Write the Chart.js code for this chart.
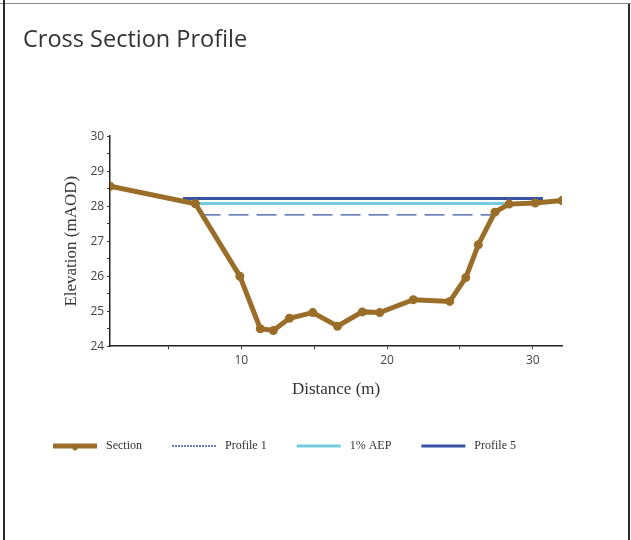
<!DOCTYPE html>
<html>
<head>
<meta charset="utf-8">
<script src="https://cdn.jsdelivr.net/npm/chart.js@4"></script>
<style>
  body { margin: 0; background: #fff; }
  #wrap { position: relative; width: 631px; height: 540px; overflow: hidden; }
  #top-line { position: absolute; left: 0; top: 3px; width: 631px; height: 1px; background: #8a8a8a; }
  #left-line { position: absolute; left: 3px; top: 0; width: 2px; height: 540px; background: #2a2a2a; }
  #right-line { position: absolute; left: 628px; top: 4px; width: 2px; height: 540px; background: #2a2a2a; }
  canvas { position: absolute; left: 0; top: 0; }
</style>
</head>
<body>
<div id="wrap">
  <canvas id="chart" width="631" height="540"></canvas>
  <div id="top-line"></div>
  <div id="left-line"></div>
  <div id="right-line"></div>
</div>
<script>
// distances (m) and elevations (mAOD)
const sectionX = [1, 6.85, 9.9, 11.3, 12.2, 13.3, 14.9, 16.6, 18.3, 19.5, 21.8, 24.3, 25.4, 26.26, 27.4, 28.37, 30.16, 32];
const sectionY = [28.57, 28.07, 26.0, 24.5, 24.45, 24.8, 24.96, 24.57, 24.98, 24.96, 25.33, 25.28, 25.96, 26.9, 27.83, 28.06, 28.09, 28.16];

const profile1X = [7.2, 27.3];
const profile1Y = [27.75, 27.75];

const aepX = [6.85, 28.4];
const aepY = [28.08, 28.08];

const profile5X = [6.0, 30.7];
const profile5Y = [28.22, 28.22];

const xLabels = [10, 20, 30];
const yLabels = [24, 25, 26, 27, 28, 29, 30];

const colors = ['#9a6d28', '#3953a4', '#72cbde', '#3953a4'];

const toPoints = (xs, ys) => xs.map((x, i) => ({x: x, y: ys[i]}));

// little legend glyphs (line sample with a margin so the text sits further away)
function legendIcon(color, width, dash, dot) {
    const c = document.createElement('canvas');
    c.width = 67;
    c.height = 14;
    const g = c.getContext('2d');
    g.strokeStyle = color;
    g.lineWidth = width;
    g.setLineDash(dash);
    g.beginPath();
    g.moveTo(20, 7);
    g.lineTo(64, 7);
    g.stroke();
    if (dot) {
        g.fillStyle = color;
        g.beginPath();
        g.arc(42, 9, 2.5, 0, Math.PI * 2);
        g.fill();
    }
    return c;
}
const icons = [
    legendIcon(colors[0], 5, [], true),
    legendIcon(colors[1], 1.5, [2, 1], false),
    legendIcon(colors[2], 3, [], false),
    legendIcon(colors[3], 3, [], false)
];

const chart = document.querySelector('#chart').getContext('2d');

new Chart(chart, {
    type: 'scatter',
    data: {
        datasets: [
            {
                label: 'Section',
                data: toPoints(sectionX, sectionY),
                showLine: true,
                borderColor: colors[0],
                backgroundColor: colors[0],
                borderWidth: 5,
                pointRadius: 2,
                pointHoverRadius: 2,
                order: 0
            },
            {
                label: 'Profile 1',
                data: toPoints(profile1X, profile1Y),
                showLine: true,
                borderColor: colors[1],
                backgroundColor: colors[1],
                borderWidth: 1.2,
                borderDash: [20, 8],
                pointRadius: 0,
                order: 3
            },
            {
                label: '1% AEP',
                data: toPoints(aepX, aepY),
                showLine: true,
                borderColor: colors[2],
                backgroundColor: colors[2],
                borderWidth: 3,
                pointRadius: 0,
                order: 1
            },
            {
                label: 'Profile 5',
                data: toPoints(profile5X, profile5Y),
                showLine: true,
                borderColor: colors[3],
                backgroundColor: colors[3],
                borderWidth: 3,
                pointRadius: 0,
                order: 2
            }
        ]
    },
    options: {
        responsive: false,
        animation: false,
        layout: {
            padding: {left: 23, right: 69, top: 0, bottom: 78}
        },
        plugins: {
            title: {
                display: true,
                text: 'Cross Section Profile',
                align: 'start',
                color: '#333',
                font: {family: 'Open Sans', size: 23.5, weight: 'normal'},
                padding: {top: 26, bottom: 82}
            },
            legend: {
                position: 'bottom',
                align: 'start',
                labels: {
                    usePointStyle: true,
                    pointStyleWidth: 67,
                    padding: 10,
                    color: '#333',
                    font: {family: 'Liberation Serif', size: 12},
                    sort: (a, b) => a.datasetIndex - b.datasetIndex,
                    generateLabels: (ch) => {
                        const items = Chart.defaults.plugins.legend.labels.generateLabels(ch);
                        items.forEach(it => { it.pointStyle = icons[it.datasetIndex]; });
                        return items;
                    }
                }
            },
            tooltip: {enabled: false}
        },
        scales: {
            x: {
                type: 'linear',
                min: 1,
                max: 32,
                afterBuildTicks: (axis) => {
                    axis.ticks = [5, 10, 15, 20, 25, 30].map(v => ({value: v}));
                },
                ticks: {
                    color: '#444',
                    font: {family: 'Open Sans', size: 12},
                    padding: 4,
                    maxRotation: 0,
                    callback: (v) => xLabels.includes(v) ? v : ''
                },
                grid: {display: true, drawOnChartArea: false, tickLength: 3, color: '#333'},
                border: {color: '#222', width: 1.5},
                title: {
                    display: true,
                    text: 'Distance (m)',
                    color: '#333',
                    font: {family: 'Liberation Serif', size: 17},
                    padding: {top: 8, bottom: 30}
                }
            },
            y: {
                min: 24,
                max: 30,
                ticks: {
                    stepSize: 0.5,
                    color: '#444',
                    font: {family: 'Open Sans', size: 12},
                    padding: 3,
                    callback: (v) => yLabels.includes(v) ? v : ''
                },
                grid: {display: true, drawOnChartArea: false, tickLength: 3, color: '#333'},
                border: {color: '#222', width: 1.5},
                title: {
                    display: true,
                    text: 'Elevation (mAOD)',
                    color: '#333',
                    font: {family: 'Liberation Serif', size: 17},
                    padding: {top: 38, bottom: 6}
                }
            }
        }
    }
});
</script>
</body>
</html>
